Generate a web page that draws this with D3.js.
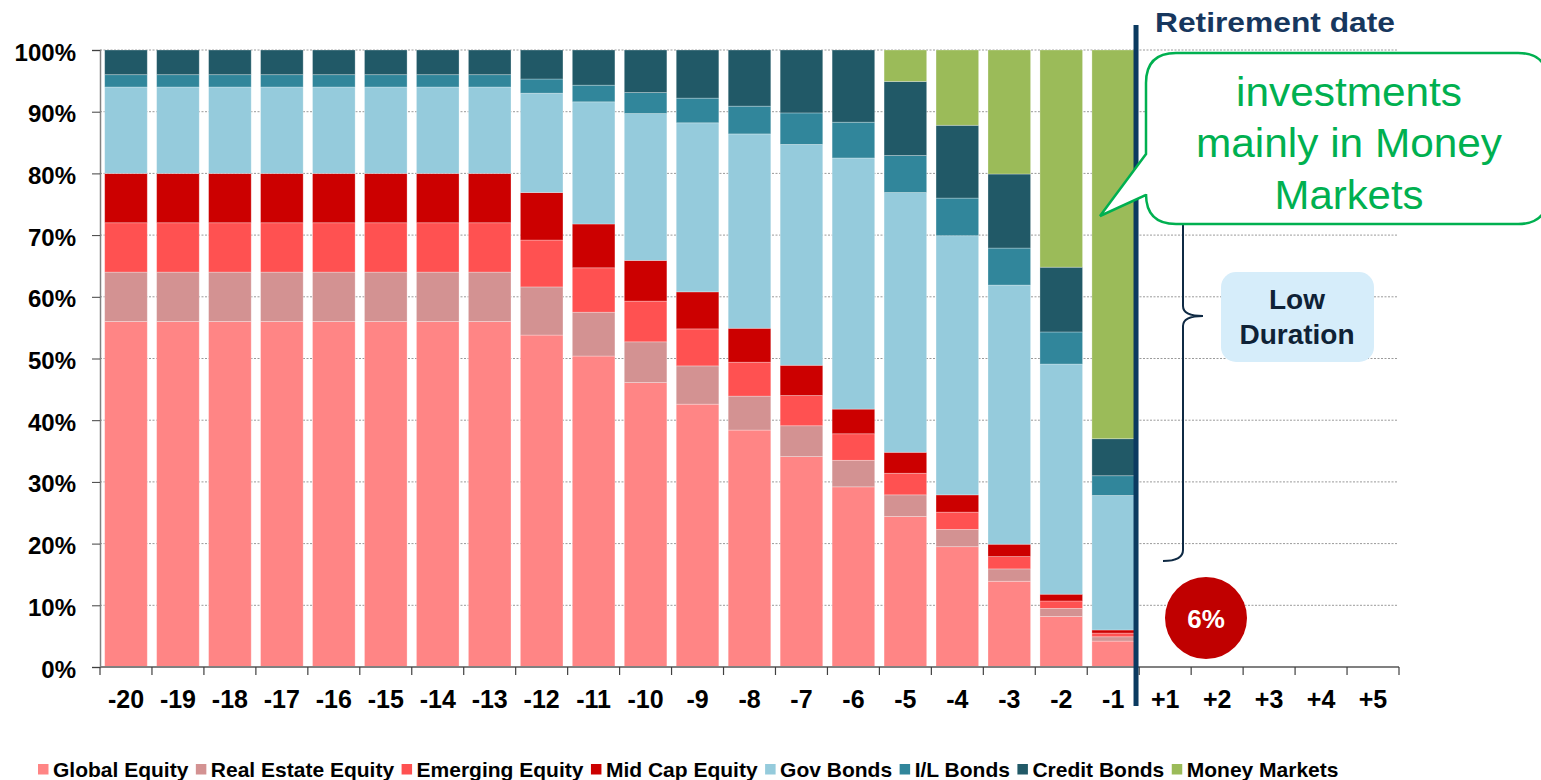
<!DOCTYPE html>
<html><head><meta charset="utf-8">
<script src="https://cdn.jsdelivr.net/npm/d3@7"></script>
<style>body{margin:0;background:#fff} svg{display:block;font-family:"Liberation Sans",Arial,Helvetica,sans-serif}</style>
</head><body><svg id="c" width="1541" height="780"></svg>
<script>
// ---------------- data ----------------
const categories = ["-20","-19","-18","-17","-16","-15","-14","-13","-12","-11","-10","-9","-8","-7","-6","-5","-4","-3","-2","-1","+1","+2","+3","+4","+5"];
const seriesNames = ["Global Equity","Real Estate Equity","Emerging Equity","Mid Cap Equity","Gov Bonds","I/L Bonds","Credit Bonds","Money Markets"];
const seriesColors = ["#FF8585","#D39292","#FF5151","#CC0000","#95CBDC","#31869B","#215967","#9BBB59"];
const globalEquity   = [56,56,56,56,56,56,56,56,53.8,50.4,46.1,42.6,38.4,34.1,29.2,24.4,19.5,13.9,8.2,4.2,0,0,0,0,0];
const realEstate     = [8,8,8,8,8,8,8,8,7.8,7.1,6.6,6.2,5.5,5.0,4.3,3.5,2.8,2.0,1.3,0.7,0,0,0,0,0];
const emergingEquity = [8,8,8,8,8,8,8,8,7.6,7.2,6.6,6.0,5.5,4.9,4.3,3.5,2.8,2.0,1.2,0.6,0,0,0,0,0];
const midCapEquity   = [8,8,8,8,8,8,8,8,7.7,7.1,6.6,6.0,5.5,4.9,4.0,3.4,2.8,2.0,1.1,0.5,0,0,0,0,0];
const govBonds       = [14,14,14,14,14,14,14,14,16.1,19.8,23.8,27.4,31.5,35.8,40.7,42.1,42.0,42.0,37.3,21.8,0,0,0,0,0];
const ilBonds        = [2,2,2,2,2,2,2,2,2.3,2.7,3.4,4.0,4.5,5.1,5.8,6.0,6.1,6.0,5.2,3.2,0,0,0,0,0];
const creditBonds    = [4,4,4,4,4,4,4,4,4.7,5.7,6.9,7.8,9.1,10.2,11.7,12.0,11.8,12.0,10.5,6.0,0,0,0,0,0];
const moneyMarkets   = [0,0,0,0,0,0,0,0,0,0,0,0,0,0,0,5.1,12.2,20.1,35.2,63.0,0,0,0,0,0];
const yTicks = [0,10,20,30,40,50,60,70,80,90,100];
const calloutLines = ["investments","mainly in Money","Markets"];
const durationLines = ["Low","Duration"];
const equityAtRetirement = "6%";

// ---------------- build ----------------
const seriesArrays = [globalEquity,realEstate,emergingEquity,midCapEquity,govBonds,ilBonds,creditBonds,moneyMarkets];
const table = categories.map((c,i)=>{ const o={cat:c}; seriesNames.forEach((s,k)=>o[s]=seriesArrays[k][i]); return o; });

const svg = d3.select("#c");
const x = d3.scaleBand().domain(categories).range([100,1399]).paddingInner(0.18).paddingOuter(0.09);
const y = d3.scaleLinear().domain([0,100]).range([667,50]);
const color = d3.scaleOrdinal().domain(seriesNames).range(seriesColors);

// gridlines
svg.append("g").selectAll("line").data(yTicks.filter(d=>d>0)).join("line")
  .attr("x1",100).attr("x2",1398).attr("y1",d=>y(d)).attr("y2",d=>y(d))
  .attr("stroke","#9a9a9a").attr("stroke-width",1).attr("stroke-dasharray","2,1.5");

// bars
const stacked = d3.stack().keys(seriesNames)(table);
svg.append("g").selectAll("g").data(stacked).join("g").attr("fill",d=>color(d.key))
  .selectAll("rect").data(d=>d).join("rect")
  .attr("x",d=>x(d.data.cat)).attr("width",x.bandwidth())
  .attr("y",d=>y(d[1])).attr("height",d=>Math.max(0,y(d[0])-y(d[1])))
  .attr("stroke","rgba(255,255,255,0.35)").attr("stroke-width",0.8);

// y axis
const yAxis = svg.append("g").attr("transform","translate(100,0)")
  .call(d3.axisLeft(y).tickValues(yTicks).tickFormat(d=>d+"%").tickSize(8).tickPadding(16));
yAxis.select(".domain").attr("stroke","#808080").attr("stroke-width",1.5);
yAxis.selectAll(".tick line").attr("stroke","#404040");
yAxis.selectAll("text").attr("font-size",24).attr("font-weight","bold").attr("fill","#000")
  .attr("font-family","'Liberation Sans',Arial,sans-serif").attr("dy","0.42em");

// x axis
const step = x.step();
const x0 = x(categories[0]) - x.paddingOuter()*step;
svg.append("line").attr("x1",x0).attr("x2",x0+categories.length*step).attr("y1",y(0)).attr("y2",y(0))
  .attr("stroke","#808080").attr("stroke-width",2);
svg.append("g").selectAll("line").data(d3.range(categories.length+1)).join("line")
  .attr("x1",i=>x0+i*step).attr("x2",i=>x0+i*step).attr("y1",y(0)).attr("y2",y(0)+8)
  .attr("stroke","#404040").attr("stroke-width",1.2);
const xAxis = svg.append("g").attr("transform",`translate(0,${y(0)})`)
  .call(d3.axisBottom(x).tickSize(0).tickPadding(23));
xAxis.select(".domain").remove();
xAxis.selectAll("text").attr("font-size",25).attr("font-weight","bold").attr("fill","#000")
  .attr("font-family","'Liberation Sans',Arial,sans-serif");

// retirement line
const xRet = x("-1") + x.bandwidth() + 1.5;
svg.append("line").attr("x1",xRet).attr("x2",xRet).attr("y1",25).attr("y2",706)
  .attr("stroke","#0B3A60").attr("stroke-width",5);
svg.append("text").attr("x",1155).attr("y",32).attr("font-size",28).attr("font-weight","bold")
  .attr("fill","#17375E").attr("textLength",240).attr("lengthAdjust","spacingAndGlyphs").text("Retirement date");

// brace
svg.append("path").attr("fill","none").attr("stroke","#0F2A44").attr("stroke-width",2)
  .attr("d","M1163,71 Q1183,71 1183,84 L1183,306 Q1183,316 1203,316 Q1183,316 1183,326 L1183,550 Q1183,561 1163,561");

// callout
const cx0=1146, cy0=53, cx1=1548, cy1=224, r=30;
const callPath = `M${cx0+r},${cy0} L${cx1-r},${cy0} Q${cx1},${cy0} ${cx1},${cy0+r} L${cx1},${cy1-r} Q${cx1},${cy1} ${cx1-r},${cy1}
 L${cx0+r},${cy1} Q${cx0},${cy1} ${cx0},${cy1-r} L${cx0},195 L1100,216 L${cx0},154 L${cx0},${cy0+r} Q${cx0},${cy0} ${cx0+r},${cy0} Z`;
svg.append("path").attr("d",callPath).attr("fill","#fff").attr("stroke","#00B050").attr("stroke-width",2.5);
const callBase=[106,157,209], callW=[226,306,149];
svg.append("g").selectAll("text").data(calloutLines).join("text")
  .attr("x",1349).attr("y",(d,i)=>callBase[i]).attr("text-anchor","middle")
  .attr("font-size",41).attr("fill","#00B050")
  .attr("textLength",(d,i)=>callW[i]).attr("lengthAdjust","spacingAndGlyphs").text(d=>d);

// low duration box
svg.append("rect").attr("x",1221).attr("y",272).attr("width",153).attr("height",90).attr("rx",15)
  .attr("fill","#D6EDFA");
svg.append("g").selectAll("text").data(durationLines).join("text")
  .attr("x",1297).attr("y",(d,i)=>[309,344][i]).attr("text-anchor","middle")
  .attr("font-size",28).attr("font-weight","bold").attr("fill","#0F2236").text(d=>d);

// 6% circle
svg.append("circle").attr("cx",1206).attr("cy",618).attr("r",41).attr("fill","#C00000");
svg.append("text").attr("x",1206).attr("y",628).attr("text-anchor","middle").attr("font-size",26)
  .attr("font-weight","bold").attr("fill","#fff").text(equityAtRetirement);

// legend
const lg = svg.append("g");
let lx = 38;
seriesNames.forEach((s,i)=>{
  lg.append("rect").attr("x",lx).attr("y",764).attr("width",10.5).attr("height",10.5).attr("fill",color(s));
  const t = lg.append("text").attr("x",lx+15).attr("y",777).attr("font-size",21).attr("font-weight","bold")
    .attr("fill","#000").text(s);
  lx += 15 + t.node().getComputedTextLength() + 7.5;
});
</script></body></html>
